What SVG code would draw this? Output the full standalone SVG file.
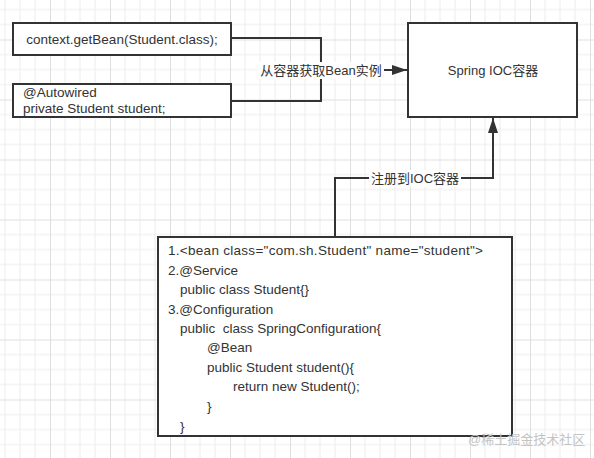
<svg xmlns="http://www.w3.org/2000/svg" width="594" height="458" viewBox="0 0 594 458">
  <style>
    .box { fill: #ffffff; stroke: #333333; stroke-width: 2; }
    .t { font-family: "Liberation Sans", "Noto Sans CJK SC", sans-serif; font-size: 13px; fill: #333333; }
    .c { font-size: 13.5px; }
    .edge { fill: none; stroke: #333333; stroke-width: 2; }
    .lbl { fill: #ffffff; }
  </style>
  <defs>
    <pattern id="grid" patternUnits="userSpaceOnUse" x="50" y="39.5" width="60" height="60">
      <path d="M15 0V60M30 0V60M45 0V60M0 15H60M0 30H60M0 45H60" stroke="#ececec" stroke-width="1" fill="none"/>
      <path d="M0.5 0V60M0 0.5H60" stroke="#dfdfdf" stroke-width="1" fill="none"/>
    </pattern>
    <marker id="arrow" markerUnits="userSpaceOnUse" markerWidth="16" markerHeight="12" refX="15" refY="5" orient="auto">
      <path d="M0 0 L15 5 L0 10 Z" fill="#333333"/>
    </marker>
  </defs>
  <rect width="594" height="458" fill="#ffffff"/>
  <rect width="594" height="458" fill="url(#grid)"/>

  <g id="connectors">
    <path class="edge" d="M231 38 H321 V101 H231"/>
    <path class="edge" d="M321 70 H407" marker-end="url(#arrow)"/>
    <rect class="lbl" x="258" y="62" width="126" height="17"/>
    <text class="t" x="321" y="75" text-anchor="middle">从容器获取Bean实例</text>
    <path class="edge" d="M335 237 V178 H493 V118" marker-end="url(#arrow)"/>
    <rect class="lbl" x="369" y="170" width="92" height="17"/>
    <text class="t" x="415" y="183" text-anchor="middle">注册到IOC容器</text>
  </g>

  <g id="getBean">
    <rect class="box" x="13" y="23" width="218" height="32"/>
    <text class="t c" x="122" y="44" text-anchor="middle">context.getBean(Student.class);</text>
  </g>

  <g id="autowired">
    <rect class="box" x="13" y="84" width="218" height="33"/>
    <text class="t c" x="23" y="97">@Autowired</text>
    <text class="t c" x="23" y="113">private Student student;</text>
  </g>

  <g id="ioc">
    <rect class="box" x="408" y="23" width="169" height="94"/>
    <text class="t" x="493" y="75" text-anchor="middle">Spring IOC容器</text>
  </g>

  <g id="beanDefs">
    <rect class="box" x="158" y="237" width="354" height="199"/>
    <text class="t c" x="168" y="255" textLength="315" lengthAdjust="spacing">1.&lt;bean class="com.sh.Student" name="student"&gt;</text>
    <text class="t c" x="168" y="275">2.@Service</text>
    <text class="t c" x="180" y="294">public class Student{}</text>
    <text class="t c" x="168" y="314">3.@Configuration</text>
    <text class="t c" x="180" y="333" xml:space="preserve">public  class SpringConfiguration{</text>
    <text class="t c" x="207" y="352">@Bean</text>
    <text class="t c" x="207" y="372">public Student student(){</text>
    <text class="t c" x="233" y="391">return new Student();</text>
    <text class="t c" x="207" y="411">}</text>
    <text class="t c" x="180" y="431">}</text>
  </g>

  <text x="468" y="444" font-family="Liberation Sans, Noto Sans CJK SC, sans-serif" font-size="13" fill="#c4c4c4">@稀土掘金技术社区</text>
</svg>
